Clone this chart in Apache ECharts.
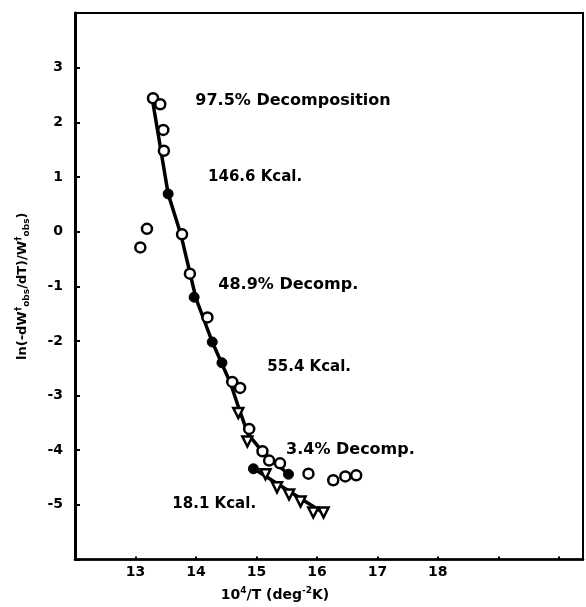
<!DOCTYPE html>
<html>
<head>
<meta charset="utf-8">
<script src="https://cdn.jsdelivr.net/npm/echarts@6/dist/echarts.min.js"></script>
<style>
  html, body { margin: 0; padding: 0; background: #fff; }
  #chart { width: 586px; height: 607px; }
</style>
</head>
<body>
<div id="chart"></div>
<script>
// open circles
const openX = [13.29, 13.41, 13.46, 13.47, 13.77, 13.90, 14.19, 14.60, 14.73, 14.88, 15.10, 15.21, 15.39, 15.86, 16.27, 16.47, 16.65, 13.19, 13.08];
const openY = [2.44, 2.33, 1.86, 1.48, -0.05, -0.77, -1.57, -2.75, -2.86, -3.61, -4.02, -4.19, -4.24, -4.43, -4.55, -4.48, -4.46, 0.05, -0.29];
// filled points
const filledX = [13.54, 13.97, 14.27, 14.43, 15.53, 14.95];
const filledY = [0.69, -1.20, -2.02, -2.40, -4.44, -4.34];
// triangles
const triX = [14.70, 14.85, 15.15, 15.34, 15.54, 15.73, 15.94, 16.11];
const triY = [-3.32, -3.84, -4.44, -4.68, -4.81, -4.94, -5.14, -5.14];
// drawn curves
const mainLineX = [13.27, 13.54, 13.75, 14.00, 14.27, 14.57, 14.73, 14.86, 15.10, 15.53];
const mainLineY = [2.48, 0.69, -0.05, -1.22, -2.02, -2.77, -3.30, -3.70, -4.03, -4.44];
const lowLineX = [14.93, 16.11];
const lowLineY = [-4.32, -5.15];
// annotations
const noteText = ['97.5% Decomposition', '146.6 Kcal.', '48.9% Decomp.', '55.4 Kcal.', '3.4% Decomp.', '18.1 Kcal.'];
const noteX = [13.99, 14.20, 14.37, 15.18, 15.49, 13.61];
const noteY = [2.40, 1.00, -0.97, -2.48, -4.00, -4.99];

const xLabels = [13, 14, 15, 16, 17, 18];
const yLabels = [3, 2, 1, 0, -1, -2, -3, -4, -5];

const zip = (xs, ys) => xs.map((x, i) => [x, ys[i]]);

const chart = echarts.init(document.getElementById('chart'));
const font = 'DejaVu Sans';

chart.setOption({
  animation: false,
  grid: { left: 75, top: 13, right: 3, bottom: 46, show: true, borderColor: '#000', borderWidth: 2 },
  xAxis: {
    type: 'value', min: 12, max: 20.4, interval: 1,
    splitLine: { show: false },
    axisLine: { onZero: false, lineStyle: { color: '#000', width: 2.5 } },
    axisTick: { inside: true, length: 3, lineStyle: { color: '#000', width: 2 } },
    axisLabel: {
      margin: 6, color: '#000', fontFamily: font, fontWeight: 'bold', fontSize: 14,
      formatter: v => xLabels.includes(v) ? String(v) : ''
    },
    name: '10{sup|4}/T (deg{sup|-2}K)',
    nameLocation: 'middle', nameGap: 27,
    nameTextStyle: {
      color: '#000', fontFamily: font, fontWeight: 'bold', fontSize: 14,
      padding: [0, 108, 0, 0],
      rich: { sup: { fontSize: 9, fontWeight: 'bold', fontFamily: font, verticalAlign: 'top', padding: [0, 0, 8, 0] } }
    }
  },
  yAxis: {
    type: 'value', min: -6, max: 4, interval: 1,
    splitLine: { show: false },
    axisLine: { onZero: false, lineStyle: { color: '#000', width: 3 } },
    axisTick: { inside: true, length: 5, lineStyle: { color: '#000', width: 2 } },
    axisLabel: {
      margin: 12, color: '#000', fontFamily: font, fontWeight: 'bold', fontSize: 14,
      formatter: v => yLabels.includes(v) ? String(v) : ''
    },
    name: 'ln(-dW{sup|†}{sub|obs}/dT)/W{sup|†}{sub|obs})',
    nameLocation: 'middle', nameGap: 44,
    nameTextStyle: {
      color: '#000', fontFamily: font, fontWeight: 'bold', fontSize: 13,
      rich: {
        sup: { fontSize: 9, fontWeight: 'bold', fontFamily: font, padding: [0, 0, 8, 0] },
        sub: { fontSize: 9, fontWeight: 'bold', fontFamily: font, padding: [8, 0, 0, 0] }
      }
    }
  },
  series: [
    {
      type: 'line', data: zip(mainLineX, mainLineY), showSymbol: false, symbol: 'none',
      lineStyle: { color: '#000', width: 3.5 }, z: 1
    },
    {
      type: 'line', data: zip(lowLineX, lowLineY), showSymbol: false, symbol: 'none',
      lineStyle: { color: '#000', width: 3.5 }, z: 1
    },
    {
      type: 'scatter', data: zip(openX, openY), symbol: 'circle', symbolSize: 10,
      itemStyle: { color: '#fff', borderColor: '#000', borderWidth: 2.5, opacity: 1 }, z: 3
    },
    {
      type: 'scatter', data: zip(filledX, filledY), symbol: 'circle', symbolSize: 10,
      itemStyle: { color: '#000', borderColor: '#000', borderWidth: 1, opacity: 1 }, z: 3
    },
    {
      type: 'scatter', data: zip(triX, triY), symbol: 'triangle', symbolSize: 10, symbolRotate: 180,
      itemStyle: { color: '#fff', borderColor: '#000', borderWidth: 2.5, opacity: 1 }, z: 3
    },
    {
      type: 'scatter', symbolSize: 0, silent: true, z: 4,
      itemStyle: { opacity: 1 },
      data: noteText.map((t, i) => ({
        value: [noteX[i], noteY[i]], name: t,
        label: { color: '#000', fontSize: t.includes('Decomp') ? 16 : 15 }
      })),
      label: {
        show: true, position: 'right', distance: 0, formatter: p => p.name,
        color: '#000', opacity: 1, fontFamily: font, fontWeight: 'bold', fontSize: 15
      }
    }
  ]
});
</script>
</body>
</html>
